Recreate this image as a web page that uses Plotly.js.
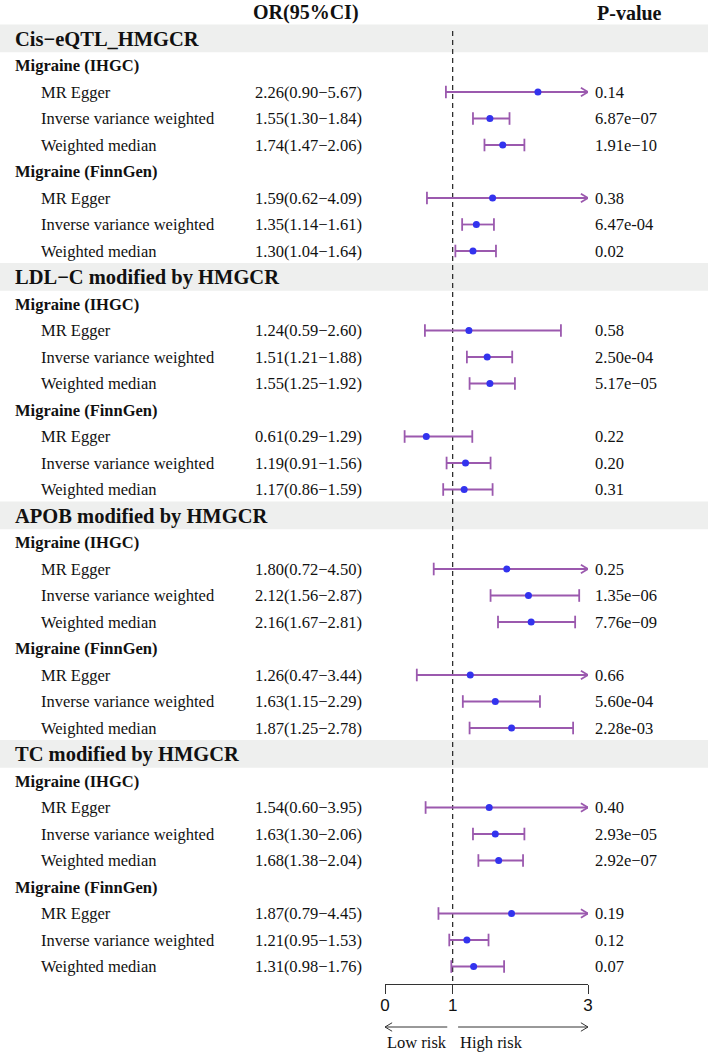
<!DOCTYPE html>
<html>
<head>
<meta charset="utf-8">
<script src="https://cdn.plot.ly/plotly-3.0.1.min.js"></script>
<style>html,body{margin:0;padding:0;background:#fff;}#chart{width:708px;height:1052px;}</style>
</head>
<body>
<div id="chart"></div>
<script>
// ---- Data ----
const sections = ["Cis\u2212eQTL_HMGCR", "LDL\u2212C modified by HMGCR", "APOB modified by HMGCR", "TC modified by HMGCR"];
const outcomes = ["Migraine (IHGC)", "Migraine (FinnGen)"];
const methods = ["MR Egger", "Inverse variance weighted", "Weighted median"];
const orEst  = [2.26,1.55,1.74, 1.59,1.35,1.30, 1.24,1.51,1.55, 0.61,1.19,1.17, 1.80,2.12,2.16, 1.26,1.63,1.87, 1.54,1.63,1.68, 1.87,1.21,1.31];
const ciLow  = [0.90,1.30,1.47, 0.62,1.14,1.04, 0.59,1.21,1.25, 0.29,0.91,0.86, 0.72,1.56,1.67, 0.47,1.15,1.25, 0.60,1.30,1.38, 0.79,0.95,0.98];
const ciHigh = [5.67,1.84,2.06, 4.09,1.61,1.64, 2.60,1.88,1.92, 1.29,1.56,1.59, 4.50,2.87,2.81, 3.44,2.29,2.78, 3.95,2.06,2.04, 4.45,1.53,1.76];
const pValues = ["0.14","6.87e\u221207","1.91e\u221210", "0.38","6.47e-04","0.02",
                 "0.58","2.50e-04","5.17e\u221205", "0.22","0.20","0.31",
                 "0.25","1.35e\u221206","7.76e\u221209", "0.66","5.60e-04","2.28e-03",
                 "0.40","2.93e\u221205","2.92e\u221207", "0.19","0.12","0.07"];
const xTicks = [0, 1, 3];
const xMax = 3;
const headers = {or: "OR(95%CI)", p: "P-value"};
const riskLabels = ["Low risk", "High risk"];

// ---- Layout constants ----
const W = 708, H = 1052;
const rowPx = 26.5, row0Px = 12.5;
const pxToRow = p => (p - row0Px) / rowPx;
const serif = "Liberation Serif, Times New Roman, serif";
const sans = "Liberation Sans, Arial, sans-serif";
const purple = "#9B59AE", blue = "#3333EE", bandCol = "#EEEFEE", txt = "#111111";
const xLabelPx = 13, xMethodPx = 39, xOrPx = 253, xPPx = 593;

const annotations = [], shapes = [];
function txtAnn(text, px, row, size, bold) {
  annotations.push({text: bold ? "<b>" + text + "</b>" : text, xref: "paper", yref: "y",
    x: px / W, y: row, xanchor: "left", yanchor: "middle", showarrow: false,
    font: {family: serif, size: size, color: txt}});
}
txtAnn(headers.or, xOrPx - 2, 0, 20, true);
txtAnn(headers.p, xPPx + 2, 0, 20, true);

let row = 1, k = 0;
const ptRows = [];
sections.forEach(s => {
  shapes.push({type: "rect", xref: "paper", yref: "y", x0: 0, x1: 1, y0: row - 0.55, y1: row + 0.5,
    fillcolor: bandCol, line: {width: 0}, layer: "below"});
  txtAnn(s, xLabelPx, row, 20.5, true);
  row++;
  outcomes.forEach(o => {
    txtAnn(o, xLabelPx, row, 16.5, true);
    row++;
    methods.forEach(m => {
      txtAnn(m, xMethodPx, row, 16.5, false);
      const fmt = v => v.toFixed(2);
      txtAnn(fmt(orEst[k]) + "(" + fmt(ciLow[k]) + "\u2212" + fmt(ciHigh[k]) + ")", xOrPx, row, 16.5, false);
      txtAnn(pValues[k], xPPx, row, 16.5, false);
      ptRows.push(row);
      row++; k++;
    });
  });
});
const axisPx = 984;
const axisRow = pxToRow(axisPx);

// dashed reference line at OR = 1
shapes.push({type: "line", xref: "x", yref: "y", x0: 1, x1: 1, y0: 0.7, y1: axisRow,
  line: {color: "#222", width: 1.2, dash: "5px,4px"}, layer: "below"});

// CI segments
const segX = [], segY = [];
const capX = [], capY = [];
const arrX = [], arrY = [];
const dxA = 0.105, dyA = 0.16;
orEst.forEach((v, i) => {
  const r = ptRows[i];
  const hi = Math.min(ciHigh[i], xMax);
  segX.push(ciLow[i], hi, null); segY.push(r, r, null);
  capX.push(ciLow[i]); capY.push(r);
  if (ciHigh[i] > xMax) {
    arrX.push(xMax - dxA, xMax, xMax - dxA, null); arrY.push(r - dyA, r, r + dyA, null);
  } else {
    capX.push(ciHigh[i]); capY.push(r);
  }
});

// bottom risk arrows
const arrRow = pxToRow(1027);
const bx = [], by = [];
const tailL = xTicks[1] - 0.08, tailR = xTicks[1] + 0.08;
bx.push(tailL, xTicks[0], null, xTicks[0] + dxA, xTicks[0], xTicks[0] + dxA, null,
        tailR, xMax, null, xMax - dxA, xMax, xMax - dxA);
by.push(arrRow, arrRow, null, arrRow - dyA, arrRow, arrRow + dyA, null,
        arrRow, arrRow, null, arrRow - dyA, arrRow, arrRow + dyA);
const riskRow = pxToRow(1042);
annotations.push({text: riskLabels[0], xref: "x", yref: "y", x: xTicks[0], y: riskRow, xanchor: "left", yanchor: "middle",
  showarrow: false, font: {family: serif, size: 16.5, color: txt}});
annotations.push({text: riskLabels[1], xref: "x", yref: "y", x: tailR, y: riskRow, xanchor: "left", yanchor: "middle",
  showarrow: false, font: {family: serif, size: 16.5, color: txt}});

const traces = [
  {type: "scatter", mode: "lines", x: segX, y: segY, line: {color: purple, width: 1.8}, hoverinfo: "skip", cliponaxis: false},
  {type: "scatter", mode: "lines", x: arrX, y: arrY, line: {color: purple, width: 1.8}, hoverinfo: "skip", cliponaxis: false},
  {type: "scatter", mode: "markers", x: capX, y: capY, marker: {symbol: "line-ns", size: 9, line: {color: purple, width: 1.8}}, hoverinfo: "skip", cliponaxis: false},
  {type: "scatter", mode: "markers", x: orEst, y: ptRows, marker: {color: blue, size: 7}, cliponaxis: false},
  {type: "scatter", mode: "lines", x: bx, y: by, line: {color: "#333", width: 1}, hoverinfo: "skip", cliponaxis: false}
];

const layout = {
  width: W, height: H,
  margin: {l: 0, r: 0, t: 0, b: 0},
  paper_bgcolor: "#fff", plot_bgcolor: "rgba(0,0,0,0)",
  showlegend: false,
  xaxis: {domain: [385 / W, 588 / W], range: [0, xMax], anchor: "free", position: 1 - axisPx / H,
    showline: true, linecolor: "#333", linewidth: 1, ticks: "outside", ticklen: 9, tickwidth: 1, tickcolor: "#333",
    tickvals: xTicks, ticktext: xTicks.map(String), tickfont: {family: sans, size: 17, color: "#111"},
    ticklabelstandoff: -3,
    showgrid: false, zeroline: false, fixedrange: true},
  yaxis: {domain: [0, 1], range: [pxToRow(H), pxToRow(0)], visible: false, showgrid: false, zeroline: false, fixedrange: true},
  shapes: shapes,
  annotations: annotations
};
Plotly.newPlot("chart", traces, layout, {displayModeBar: false, staticPlot: true});
</script>
</body>
</html>
